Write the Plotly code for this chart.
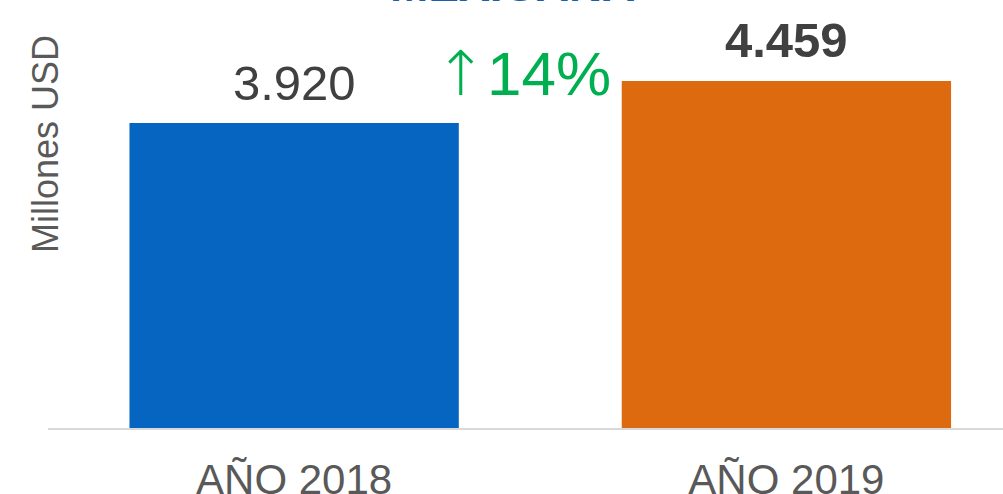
import plotly.graph_objects as go

# Exportaciones anuales, millones de USD
categorias = ["AÑO 2018", "AÑO 2019"]
valores = [3920, 4459]
etiquetas = ["3.920", "4.459"]
flecha = "↑"
variacion = "14%"
titulo = "MEXICANA"
colores = ["#0565C0", "#DE6A10"]

fig = go.Figure()
fig.add_trace(go.Bar(
    x=categorias,
    y=valores,
    marker=dict(color=colores, line=dict(width=0)),
    width=0.669,
    hoverinfo="skip",
))

# Etiquetas de valor sobre cada barra
fig.add_annotation(x=categorias[0], y=valores[0], text=etiquetas[0], showarrow=False,
                   yanchor="bottom", yshift=11,
                   font=dict(family="Liberation Sans, Arial", size=49, color="#404040"))
fig.add_annotation(x=categorias[1], y=valores[1], text="<b>" + etiquetas[1] + "</b>", showarrow=False,
                   yanchor="bottom", yshift=12,
                   font=dict(family="Liberation Sans, Arial", size=49, color="#404040"))

# Variación interanual
fig.add_annotation(xref="paper", yref="paper", x=(523 - 48) / 955, y=1 - 74 / 428,
                   text='<span style="font-family:DejaVu Sans;font-weight:200">' + flecha + "</span>" + variacion,
                   showarrow=False, xanchor="center", yanchor="middle",
                   font=dict(family="Liberation Sans, Arial", size=62, color="#00B050"))

# Título (parte superior)
fig.add_annotation(xref="paper", yref="paper", x=(512 - 48) / 955, y=1, yshift=-13,
                   text="<b>" + titulo + "</b>", showarrow=False,
                   xanchor="center", yanchor="bottom",
                   font=dict(family="Liberation Sans, Arial", size=46, color="#1A5FA8"))

# Título del eje Y
fig.add_annotation(xref="paper", yref="paper", x=0, xshift=-3, y=1 - 144 / 428,
                   text="Millones USD", textangle=-90, showarrow=False,
                   xanchor="center", yanchor="middle",
                   font=dict(family="Liberation Sans, Arial", size=36, color="#595959"))

fig.update_layout(
    width=1003, height=494,
    margin=dict(l=48, r=0, t=0, b=66, autoexpand=False),
    paper_bgcolor="white", plot_bgcolor="white",
    showlegend=False,
    xaxis=dict(
        range=[-0.5, 1.44],
        showgrid=False, zeroline=False, automargin=False,
        showline=True, linecolor="#D9D9D9", linewidth=2,
        ticks="", ticklabelstandoff=14,
        tickfont=dict(family="Liberation Sans, Arial", size=42, color="#595959"),
    ),
    yaxis=dict(
        range=[0, 5500], visible=False, showgrid=False, zeroline=False, automargin=False,
    ),
)

fig.write_html("out.html")
